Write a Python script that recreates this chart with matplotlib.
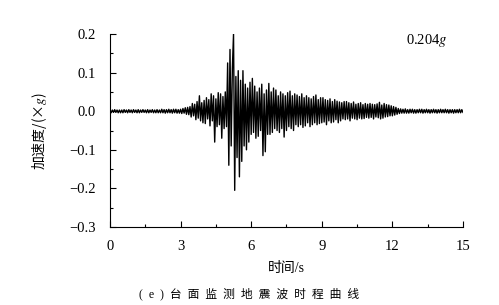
import numpy as np
import matplotlib
matplotlib.use("Agg")
import matplotlib.pyplot as plt
from matplotlib.ticker import MultipleLocator

plt.rcParams['font.family'] = ['Liberation Serif', 'Noto Sans CJK SC']
plt.rcParams['mathtext.fontset'] = 'stix'

# sampling step of the record (s)
dt = 0.05

# acceleration (g), 20 samples per second
acc_0_3 = [
    0.003, -0.004, 0.003, -0.003, 0.004, -0.003, 0.003, -0.004, 0.003, -0.004,
    0.003, -0.004, 0.004, -0.003, 0.003, -0.004, 0.004, -0.003, 0.003, -0.004,
    0.004, -0.003, 0.003, -0.004, 0.004, -0.004, 0.003, -0.003, 0.004, -0.003,
    0.003, -0.004, 0.004, -0.004, 0.003, -0.003, 0.004, -0.004, 0.003, -0.004,
    0.004, -0.004, 0.003, -0.004, 0.005, -0.004, 0.004, -0.005, 0.004, -0.004,
    0.005, -0.004, 0.004, -0.005, 0.005, -0.004, 0.005, -0.005, 0.004, -0.005,
]
acc_3_5 = [
    0.005, -0.006, 0.007, -0.005, 0.009, -0.008, 0.010, -0.009, 0.012, -0.015,
    0.020, -0.012, 0.018, -0.022, 0.025, -0.018, 0.040, -0.025, 0.022, -0.030,
    0.028, -0.032, 0.035, -0.020, 0.030, -0.038, 0.045, -0.025, 0.040, -0.080,
    0.032, -0.040, 0.048, -0.035, 0.045, -0.070, 0.038, -0.045, 0.050, -0.040,
]
acc_5_7 = [
    0.125, -0.140, 0.160, -0.090, 0.110, 0.200, -0.205, 0.090, -0.120, 0.105,
    -0.170, 0.080, -0.130, 0.105, -0.090, 0.070, -0.100, 0.060, -0.080, 0.075,
    -0.060, 0.085, -0.055, 0.065, -0.070, 0.050, -0.065, 0.060, -0.050, 0.070,
    -0.115, 0.045, -0.105, 0.055, -0.060, 0.072, -0.060, 0.050, -0.055, 0.060,
]
acc_7_10 = [
    -0.045, 0.055, -0.050, 0.040, -0.055, 0.050, -0.045, 0.045, -0.067, 0.040,
    -0.050, 0.048, -0.040, 0.052, -0.045, 0.040, -0.050, 0.045, -0.035, 0.042,
    -0.040, 0.038, -0.035, 0.045, -0.042, 0.035, -0.038, 0.040, -0.030, 0.035,
    -0.040, 0.032, -0.035, 0.038, -0.030, 0.042, -0.035, 0.030, -0.032, 0.035,
    -0.030, 0.035, -0.028, 0.030, -0.035, 0.028, -0.025, 0.032, -0.030, 0.025,
    -0.028, 0.030, -0.022, 0.026, -0.030, 0.024, -0.025, 0.022, -0.020, 0.025,
]
acc_10_12 = [
    -0.022, 0.025, -0.020, 0.022, -0.025, 0.020, -0.018, 0.024, -0.020, 0.018,
    -0.022, 0.020, -0.018, 0.022, -0.020, 0.017, -0.019, 0.020, -0.016, 0.018,
    -0.018, 0.020, -0.016, 0.018, -0.020, 0.017, -0.015, 0.019, -0.017, 0.023,
    -0.020, 0.016, -0.018, 0.020, -0.015, 0.017, -0.014, 0.016, -0.012, 0.014,
]
acc_12_15 = [
    -0.012, 0.012, -0.010, 0.010, -0.008, 0.007, -0.006, 0.006, -0.005, 0.005,
    -0.005, 0.006, -0.005, 0.004, -0.005, 0.005, -0.004, 0.005, -0.005, 0.004,
    -0.005, 0.004, -0.004, 0.005, -0.004, 0.005, -0.005, 0.004, -0.004, 0.005,
    -0.004, 0.004, -0.005, 0.004, -0.004, 0.005, -0.004, 0.004, -0.005, 0.004,
    -0.004, 0.005, -0.004, 0.004, -0.004, 0.005, -0.004, 0.004, -0.005, 0.004,
    -0.004, 0.004, -0.005, 0.004, -0.004, 0.004, -0.004, 0.005, -0.004, 0.004,
    -0.003,
]

acc = np.array(acc_0_3 + acc_3_5 + acc_5_7 + acc_7_10 + acc_10_12 + acc_12_15)
t = np.arange(len(acc)) * dt

x_ticks = [0, 3, 6, 9, 12, 15]
y_ticks = [-0.3, -0.2, -0.1, 0.0, 0.1, 0.2]
y_tick_labels = ['\u22120.3', '\u22120.2', '\u22120.1', '0.0', '0.1', '0.2']
pga_label = '0.204$g$'

fig = plt.figure(figsize=(4.99, 3.05), dpi=100)
ax = fig.add_axes([0.2204, 0.2557, 0.7074, 0.6328])

ax.plot(t, acc, color='black', linewidth=1.0)

ax.set_xlim(0, 15)
ax.set_ylim(-0.3, 0.2)
ax.set_xticks(x_ticks)
ax.set_yticks(y_ticks)
ax.set_yticklabels(y_tick_labels)
ax.xaxis.set_minor_locator(MultipleLocator(1.5))
ax.yaxis.set_minor_locator(MultipleLocator(0.05))
ax.tick_params(which='both', direction='in', top=False, right=False, labelsize=10.5)
ax.tick_params(which='major', length=4, width=0.8)
ax.tick_params(which='minor', length=2.5, width=0.8)
ax.tick_params(axis='x', pad=9)
ax.tick_params(axis='y', pad=10)

for side in ['top', 'right']:
    ax.spines[side].set_visible(False)

ax.set_xlabel('时间/s', fontsize=10, labelpad=7)
ax.set_ylabel('加速度/(×$g$)', fontsize=10, labelpad=15,
              fontfamily='Noto Sans CJK SC')
ax.text(0.84, 0.965, pga_label, transform=ax.transAxes, fontsize=10.5,
        ha='left', va='center')

fig.text(0.5, 0.035, '(  e  )  台  面  监  测  地  震  波  时  程  曲  线', fontsize=8.5,
         ha='center', va='center')

fig.savefig('out.png', dpi=100)
